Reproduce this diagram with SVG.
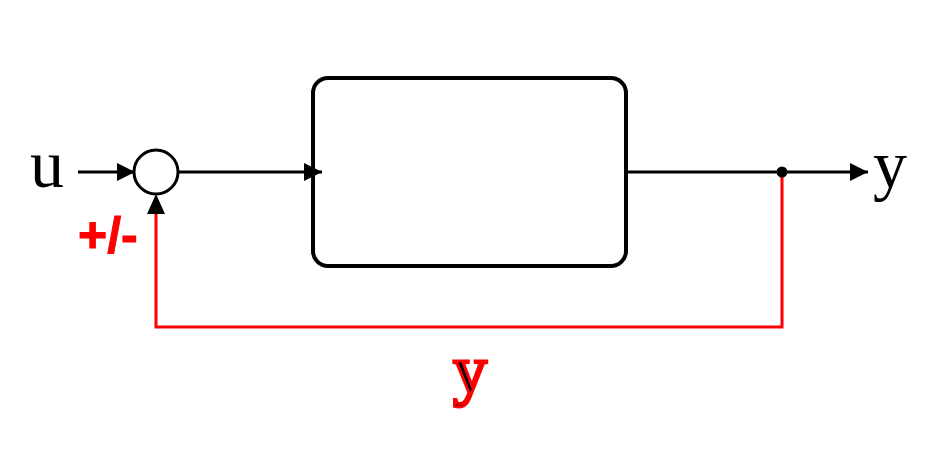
<svg xmlns="http://www.w3.org/2000/svg" width="938" height="469" viewBox="0 0 938 469">
<style>
.blk{stroke:#000;stroke-width:3;fill:none}
.red{stroke:#f00;stroke-width:3;fill:none}
.lbl{font-family:"Liberation Serif",serif;font-size:68px;fill:#000}
.rlbl{fill:#000;stroke:#f00;stroke-width:3}
</style>
<defs>
<marker id="ah" viewBox="0 0 10 10" refX="10" refY="5" markerWidth="6" markerHeight="6" orient="auto" markerUnits="strokeWidth">
<path d="M0,0 L10,5 L0,10 z" fill="#000"/>
</marker>
</defs>
<rect width="938" height="469" fill="#fff"/>
<g id="connectors">
<line class="blk" x1="78" y1="172" x2="135" y2="172" marker-end="url(#ah)"/>
<line class="blk" x1="178" y1="172" x2="322" y2="172" marker-end="url(#ah)"/>
<line class="blk" x1="626" y1="172" x2="868" y2="172" marker-end="url(#ah)"/>
<polyline class="red" points="782,172 782,327 156,327 156,214"/>
<path d="M156,194 L147,214 L165,214 z" fill="#000"/>
<circle cx="782" cy="172" r="5.5" fill="#000"/>
</g>
<g id="sum">
<circle cx="156" cy="172" r="22" class="blk" fill="#fff"/>
</g>
<g id="block">
<rect x="313" y="78" width="313" height="188" rx="15" ry="15" fill="none" stroke="#000" stroke-width="4"/>
</g>
<g id="labels">
<text class="lbl" x="30" y="187">u</text>
<text class="lbl" x="873" y="188">y</text>
<text x="78" y="252" font-family="Liberation Sans,Arial,sans-serif" font-weight="bold" font-size="50" fill="#f00" stroke="#f00" stroke-width="1">+/-</text>
<text x="470" y="393" text-anchor="middle" font-family="Liberation Serif,serif" font-size="68" class="rlbl">y</text>
</g>
</svg>
